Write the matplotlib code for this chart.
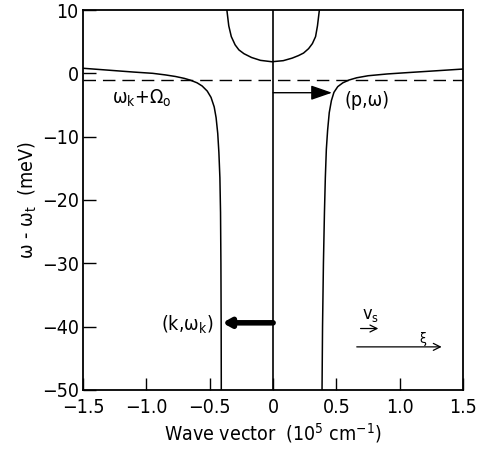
import matplotlib
matplotlib.use("Agg")
import matplotlib.pyplot as plt

plt.rcParams['font.family'] = ['DejaVu Sans']
plt.rcParams['font.stretch'] = 'condensed'
plt.rcParams['mathtext.fontset'] = 'custom'
plt.rcParams['mathtext.rm'] = 'DejaVu Sans:stretch=condensed'

# data
left_x = [-1.5, -1.3, -1.1, -0.95, -0.85, -0.77, -0.7, -0.65, -0.6, -0.56, -0.52, -0.49,
          -0.465, -0.45, -0.437, -0.428, -0.42, -0.415, -0.412, -0.41, -0.409]
left_y = [0.8, 0.5, 0.2, 0.0, -0.25, -0.5, -0.8, -1.1, -1.5, -2.0, -2.8, -3.8,
          -5.3, -7.0, -9.5, -12.5, -16.5, -22, -30, -40, -50]
right_x = [0.386, 0.39, 0.397, 0.405, 0.412, 0.42, 0.43, 0.443, 0.46, 0.48, 0.51, 0.55,
           0.6, 0.66, 0.75, 0.9, 1.05, 1.3, 1.5]
right_y = [-50, -40, -30, -22, -16.5, -12, -9, -6.2, -4.3, -3.0, -2.1, -1.5,
           -1.05, -0.7, -0.38, -0.1, 0.1, 0.42, 0.68]
up_x = [-0.365, -0.35, -0.33, -0.3, -0.27, -0.23, -0.17, -0.1, -0.01, 0.08, 0.15, 0.2,
        0.24, 0.28, 0.31, 0.335, 0.35, 0.365]
up_y = [10, 7.5, 5.8, 4.5, 3.7, 3.1, 2.5, 2.05, 1.83, 2.0, 2.4, 2.8,
        3.2, 3.9, 4.7, 5.8, 7.5, 10]
dash_level = -1.05
p_arrow = (0.0, 0.465, -3.06)     # x0, x1, y
k_arrow = (0.0, -0.40, -39.4)

xticks = [-1.5, -1.0, -0.5, 0, 0.5, 1.0, 1.5]
xticklabels = ["\u22121.5", "\u22121.0", "\u22120.5", "0", "0.5", "1.0", "1.5"]
yticks = [10, 0, -10, -20, -30, -40, -50]
yticklabels = ["10", "0", "\u221210", "\u221220", "\u221230", "\u221240", "\u221250"]

fig = plt.figure(figsize=(4.8, 4.55), dpi=100)
ax = fig.add_axes([0.173, 0.143, 0.792, 0.835])
ax.set_xlim(-1.5, 1.5)
ax.set_ylim(-50, 10)

lw = 1.1
ax.plot(left_x, left_y, color='black', lw=lw)
ax.plot(right_x, right_y, color='black', lw=lw)
ax.plot(up_x, up_y, color='black', lw=lw)
ax.axvline(0, color='black', lw=1.2)
ax.axhline(dash_level, color='black', lw=1.0, dashes=(9, 5))

ax.annotate("", xy=(p_arrow[1], p_arrow[2]), xytext=(p_arrow[0], p_arrow[2]),
            arrowprops=dict(arrowstyle="-|>,head_length=1.3,head_width=0.45",
                            color='black', lw=1.0, shrinkA=0, shrinkB=0))
ax.annotate("", xy=(k_arrow[1], k_arrow[2]), xytext=(k_arrow[0], k_arrow[2]),
            arrowprops=dict(arrowstyle="-|>,head_length=0.45,head_width=0.25",
                            color='black', lw=4.0, shrinkA=0, shrinkB=0))

fs = 14
ax.text(0.56, -4.3, "(p,\u03c9)", fontsize=fs, ha='left', va='center')
ax.text(-0.47, -39.7, "(k,\u03c9$_\\mathregular{k}$)", fontsize=fs, ha='right', va='center')
ax.text(-1.27, -4.0, "\u03c9$_\\mathregular{k}$+\u03a9$_\\mathregular{o}$", fontsize=fs,
        ha='left', va='center')

# v_s and xi arrows
ax.annotate("", xy=(0.83, -40.3), xytext=(0.69, -40.3),
            arrowprops=dict(arrowstyle="->,head_length=0.5,head_width=0.25",
                            color='black', lw=0.9, shrinkA=0, shrinkB=0))
ax.text(0.70, -38.2, "v$_\\mathregular{s}$", fontsize=13, ha='left', va='center')
ax.annotate("", xy=(1.33, -43.2), xytext=(0.66, -43.2),
            arrowprops=dict(arrowstyle="->,head_length=0.5,head_width=0.25",
                            color='black', lw=0.9, shrinkA=0, shrinkB=0))
ax.text(1.18, -42.0, "\u03be", fontsize=10, ha='center', va='center')

ax.set_xticks(xticks)
ax.set_xticklabels(xticklabels)
ax.set_yticks(yticks)
ax.set_yticklabels(yticklabels)
ax.tick_params(direction='in', length=9, width=1.0, labelsize=fs, top=False, right=False)
ax.tick_params(axis='x', pad=6)
ax.tick_params(axis='y', pad=3)
for s in ax.spines.values():
    s.set_linewidth(1.3)

ax.set_xlabel("Wave vector  (10$^\\mathregular{5}$ cm$^\\mathregular{-1}$)", fontsize=fs, labelpad=3)
ax.set_ylabel("\u03c9 - \u03c9$_\\mathregular{t}$  (meV)", fontsize=fs, labelpad=2)

fig.savefig("out.png", dpi=100)
